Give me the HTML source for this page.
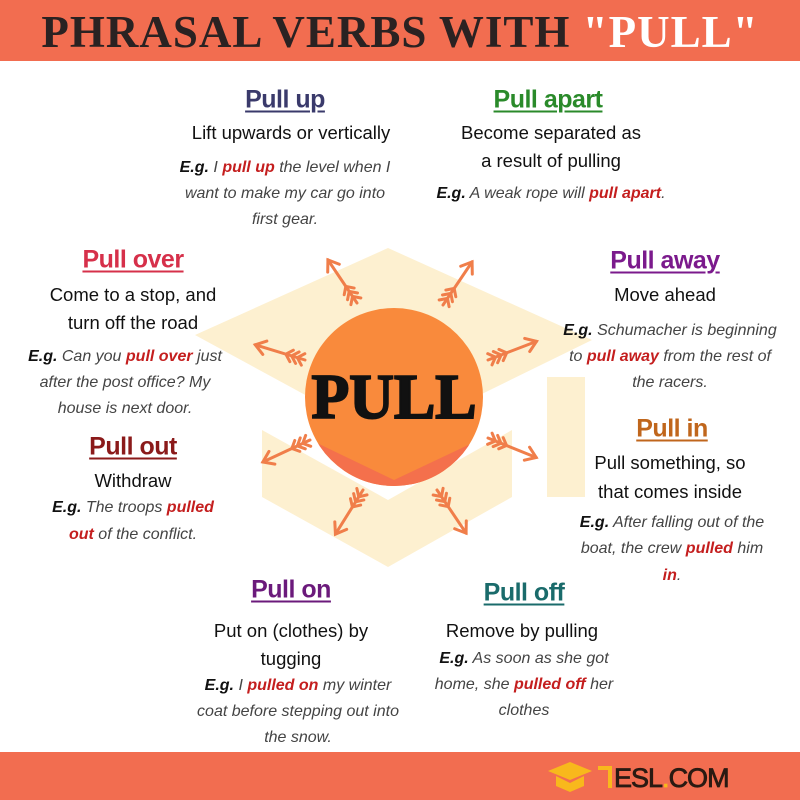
<!DOCTYPE html>
<html><head><meta charset="utf-8"><style>
body{margin:0;width:800px;height:800px;position:relative;background:#fff;overflow:hidden;font-family:"Liberation Sans",sans-serif}
.hdr{position:absolute;left:0;top:0;width:800px;height:61px;background:#f26d50}
.ttl{position:absolute;left:0;top:6px;width:800px;text-align:center;font-family:"Liberation Serif",serif;font-weight:bold;font-size:45px;color:#2a2222;letter-spacing:1px;white-space:nowrap}
.ftr{position:absolute;left:0;top:752px;width:800px;height:48px;background:#f26d50}
.l{position:absolute;transform:translate(-50%,-50%);white-space:nowrap;text-align:center}
.h{font-weight:bold;font-size:25px;text-decoration:underline;text-decoration-thickness:2px;text-underline-offset:3px;letter-spacing:-0.5px}
.d{font-size:18.5px;color:#111}
.e{font-size:16px;font-style:italic;color:#444}
.e b{color:#111}
.r{color:#c41e1e;font-weight:bold}
</style></head><body>
<div class="hdr"></div>
<div class="ttl">PHRASAL VERBS WITH <span style="color:#fff">"PULL"</span></div>

<svg width="800" height="800" style="position:absolute;left:0;top:0">
<g fill="#fdf0d0">
<polygon points="388,248 592,340 388,440 195,335"/>
<polygon points="262,430 388,500 512,430 512,497 388,567 262,497"/>
<rect x="547" y="377" width="38" height="120"/>
</g>
<clipPath id="c"><circle cx="394" cy="397" r="89"/></clipPath>
<circle cx="394" cy="397" r="89" fill="#f98a3c"/>
<polygon clip-path="url(#c)" points="290,430 394,480 500,430 500,500 290,500" fill="#f4704c"/>
<text x="394" y="418" text-anchor="middle" font-family="Liberation Serif,serif" font-weight="bold" font-size="64" fill="#111" stroke="#111" stroke-width="2" textLength="165" lengthAdjust="spacingAndGlyphs">PULL</text>
<g stroke="#f07e4a" stroke-width="3" fill="none" stroke-linecap="round">
<defs><g id="a"><line x1="0" y1="0" x2="52" y2="0"/><polyline points="42,-7 52,0 42,7"/><polyline points="2,-6 8,0 2,6"/><polyline points="8,-6 14,0 8,6"/><polyline points="14,-6 20,0 14,6"/></g></defs>
<use href="#a" transform="translate(357,303) rotate(-124)"/>
<use href="#a" transform="translate(443,305) rotate(-56)"/>
<use href="#a" transform="translate(305,360) rotate(-163)"/>
<use href="#a" transform="translate(488,360) rotate(-21)"/>
<use href="#a" transform="translate(310,440) rotate(155)"/>
<use href="#a" transform="translate(488,438) rotate(22)"/>
<use href="#a" transform="translate(363,490) rotate(122)"/>
<use href="#a" transform="translate(437,490) rotate(56)"/>
</g>
</svg>

<div class="l h" style="left:285px;top:100px;color:#3a3a6b">Pull up</div>
<div class="l d" style="left:291px;top:133px">Lift upwards or vertically</div>
<div class="l e" style="left:285px;top:168px"><b>E.g.</b> I <span class="r">pull up</span> the level when I</div>
<div class="l e" style="left:285px;top:194px">want to make my car go into</div>
<div class="l e" style="left:285px;top:220px">first gear.</div>

<div class="l h" style="left:548px;top:100px;color:#2a8a2a">Pull apart</div>
<div class="l d" style="left:551px;top:133px">Become separated as</div>
<div class="l d" style="left:551px;top:161px">a result of pulling</div>
<div class="l e" style="left:551px;top:194px"><b>E.g.</b> A weak rope will <span class="r">pull apart</span>.</div>

<div class="l h" style="left:133px;top:260px;color:#d6304a">Pull over</div>
<div class="l d" style="left:133px;top:295px">Come to a stop, and</div>
<div class="l d" style="left:133px;top:323px">turn off the road</div>
<div class="l e" style="left:125px;top:357px"><b>E.g.</b> Can you <span class="r">pull over</span> just</div>
<div class="l e" style="left:125px;top:383px">after the post office? My</div>
<div class="l e" style="left:125px;top:409px">house is next door.</div>

<div class="l h" style="left:133px;top:447px;color:#8b1a1a">Pull out</div>
<div class="l d" style="left:133px;top:481px">Withdraw</div>
<div class="l e" style="left:133px;top:508px"><b>E.g.</b> The troops <span class="r">pulled</span></div>
<div class="l e" style="left:133px;top:535px"><span class="r">out</span> of the conflict.</div>

<div class="l h" style="left:665px;top:261px;color:#7b1a8c">Pull away</div>
<div class="l d" style="left:665px;top:295px">Move ahead</div>
<div class="l e" style="left:670px;top:331px"><b>E.g.</b> Schumacher is beginning</div>
<div class="l e" style="left:670px;top:357px">to <span class="r">pull away</span> from the rest of</div>
<div class="l e" style="left:670px;top:383px">the racers.</div>

<div class="l h" style="left:672px;top:429px;color:#c0661c">Pull in</div>
<div class="l d" style="left:670px;top:463px">Pull something, so</div>
<div class="l d" style="left:670px;top:492px">that comes inside</div>
<div class="l e" style="left:672px;top:523px"><b>E.g.</b> After falling out of the</div>
<div class="l e" style="left:672px;top:549px">boat, the crew <span class="r">pulled</span> him</div>
<div class="l e" style="left:672px;top:576px"><span class="r">in</span>.</div>

<div class="l h" style="left:291px;top:590px;color:#6b1a7b">Pull on</div>
<div class="l d" style="left:291px;top:631px">Put on (clothes) by</div>
<div class="l d" style="left:291px;top:659px">tugging</div>
<div class="l e" style="left:298px;top:686px"><b>E.g.</b> I <span class="r">pulled on</span> my winter</div>
<div class="l e" style="left:298px;top:712px">coat before stepping out into</div>
<div class="l e" style="left:298px;top:738px">the snow.</div>

<div class="l h" style="left:524px;top:593px;color:#1a6b6b">Pull off</div>
<div class="l d" style="left:522px;top:631px">Remove by pulling</div>
<div class="l e" style="left:524px;top:659px"><b>E.g.</b> As soon as she got</div>
<div class="l e" style="left:524px;top:685px">home, she <span class="r">pulled off</span> her</div>
<div class="l e" style="left:524px;top:711px">clothes</div>

<div class="ftr"></div>
<svg width="800" height="800" style="position:absolute;left:0;top:0">
<polygon points="570,762 592,771 570,780 548,771" fill="#f8b81c"/>
<path d="M556,776 L556,786 L570,792 L584,786 L584,776 L570,783 Z" fill="#f8b81c"/>
<rect x="598" y="766" width="14" height="4" fill="#f8b81c"/>
<rect x="608" y="766" width="4" height="22" fill="#f8b81c"/>
<text x="614" y="787" font-family="Liberation Sans,sans-serif" font-size="27" fill="#2a1a12" stroke="#2a1a12" stroke-width="0.8" letter-spacing="-1">ESL<tspan fill="#f8b81c" stroke="#f8b81c">.</tspan>COM</text>
</svg>
</body></html>
